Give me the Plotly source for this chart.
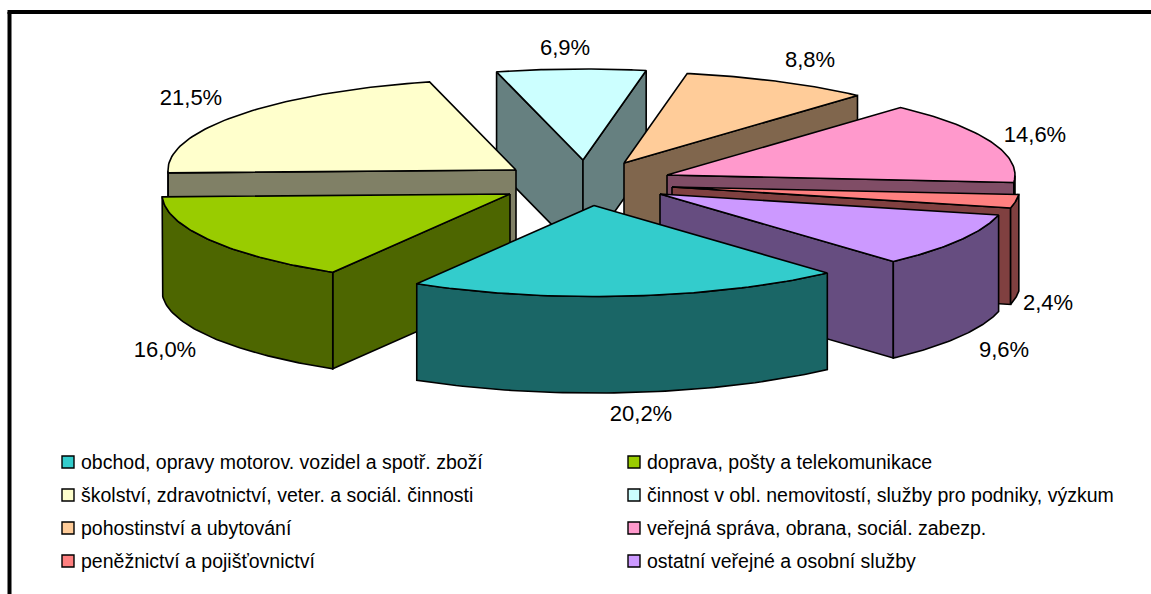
import math
import plotly.graph_objects as go

# ---- data ----
categories = [
    "obchod, opravy motorov. vozidel a spotř. zboží",
    "doprava, pošty a telekomunikace",
    "školství, zdravotnictví, veter. a sociál. činnosti",
    "činnost v obl. nemovitostí, služby pro podniky, výzkum",
    "pohostinství a ubytování",
    "veřejná správa, obrana, sociál. zabezp.",
    "peněžnictví a pojišťovnictví",
    "ostatní veřejné a osobní služby",
]
values = [20.2, 16.0, 21.5, 6.9, 8.8, 14.6, 2.4, 9.6]

# ---- styles ----
top_colors = ["#33CCCC", "#99CC00", "#FFFFCC", "#CCFFFF", "#FFCC99", "#FF99CC", "#FF8080", "#CC99FF"]
side_colors = ["#1A6666", "#4D6600", "#808066", "#668080", "#80664D", "#804D66", "#804040", "#664D80"]

# ---- layout of the exploded 3-D pie ----
START = 137.9      # clockwise from 12 o'clock
RX, RY, DEPTH = 348, 91, 96.5
apex = [(594, 205.5), (510, 194), (516, 170), (583, 160),
        (624, 163), (667, 175), (672, 187), (660, 194)]
draw_order = [3, 4, 2, 5, 6, 1, 7, 0]
label_pos = [(641, 415), (165, 351), (191, 99), (565, 49),
             (810, 61), (1035, 136), (1048, 304), (1004, 351)]
legend_x = [68, 634]
legend_y = [462, 495, 528, 561]
LINE = 1.6

fig = go.Figure()


def poly(xs, ys, color):
    fig.add_trace(go.Scatter(
        x=xs, y=ys, mode="lines", fill="toself", fillcolor=color,
        line=dict(color="black", width=LINE), hoverinfo="skip", showlegend=False))


def rim(cx, cy, a):
    r = math.radians(a)
    return cx + RX * math.sin(r), cy - RY * math.cos(r)


angles = [START]
for v in values:
    angles.append(angles[-1] + v / sum(values) * 360)

for i in draw_order:
    a1, a2 = angles[i], angles[i + 1]
    cx, cy = apex[i]
    n = 60
    arc = [a1 + (a2 - a1) * k / n for k in range(n + 1)]
    pts = [rim(cx, cy, a) for a in arc]
    # radial cut faces
    if math.sin(math.radians(a1)) < 0:
        x0, y0 = pts[0]
        poly([cx, x0, x0, cx, cx], [cy, y0, y0 + DEPTH, cy + DEPTH, cy], side_colors[i])
    if math.sin(math.radians(a2)) > 0:
        x0, y0 = pts[-1]
        poly([cx, x0, x0, cx, cx], [cy, y0, y0 + DEPTH, cy + DEPTH, cy], side_colors[i])
    # outer wall (front half only)
    front = [p for a, p in zip(arc, pts) if math.cos(math.radians(a)) < 0]
    if front:
        xs = [p[0] for p in front]
        ys = [p[1] for p in front]
        poly(xs + xs[::-1] + xs[:1], ys + [y + DEPTH for y in ys[::-1]] + ys[:1], side_colors[i])
    # top surface
    poly([cx] + [p[0] for p in pts] + [cx], [cy] + [p[1] for p in pts] + [cy], top_colors[i])

# value labels
fig.add_trace(go.Scatter(
    x=[p[0] for p in label_pos], y=[p[1] for p in label_pos], mode="text",
    text=[f"{v:.1f}%".replace(".", ",") for v in values],
    textposition="middle center",
    textfont=dict(family="Liberation Sans", size=22, color="black"),
    hoverinfo="skip", showlegend=False))

# legend, two columns, filled row by row
for i, name in enumerate(categories):
    lx = legend_x[i % 2]
    ly = legend_y[i // 2]
    fig.add_trace(go.Scatter(
        x=[lx], y=[ly], mode="markers",
        marker=dict(symbol="square", size=12, color=top_colors[i], line=dict(color="black", width=1.4)),
        hoverinfo="skip", showlegend=False))
    fig.add_annotation(x=lx + 11, y=ly, text=name, showarrow=False, xanchor="left", yanchor="middle",
                       font=dict(family="Liberation Sans", size=19.5, color="black"))

# chart frame
fig.add_shape(type="line", x0=9.5, x1=9.5, y0=12, y1=594, line=dict(color="black", width=4))
fig.add_shape(type="line", x0=7.5, x1=1151, y0=12, y1=12, line=dict(color="black", width=4))

fig.update_xaxes(range=[0, 1151], visible=False, fixedrange=True)
fig.update_yaxes(range=[594, 0], visible=False, fixedrange=True)
fig.update_layout(width=1151, height=594, margin=dict(l=0, r=0, t=0, b=0),
                  paper_bgcolor="white", plot_bgcolor="white")
fig.write_html("out.html", config={"displayModeBar": False},
               post_script="document.body.style.margin='0';document.body.style.overflow='hidden';")
